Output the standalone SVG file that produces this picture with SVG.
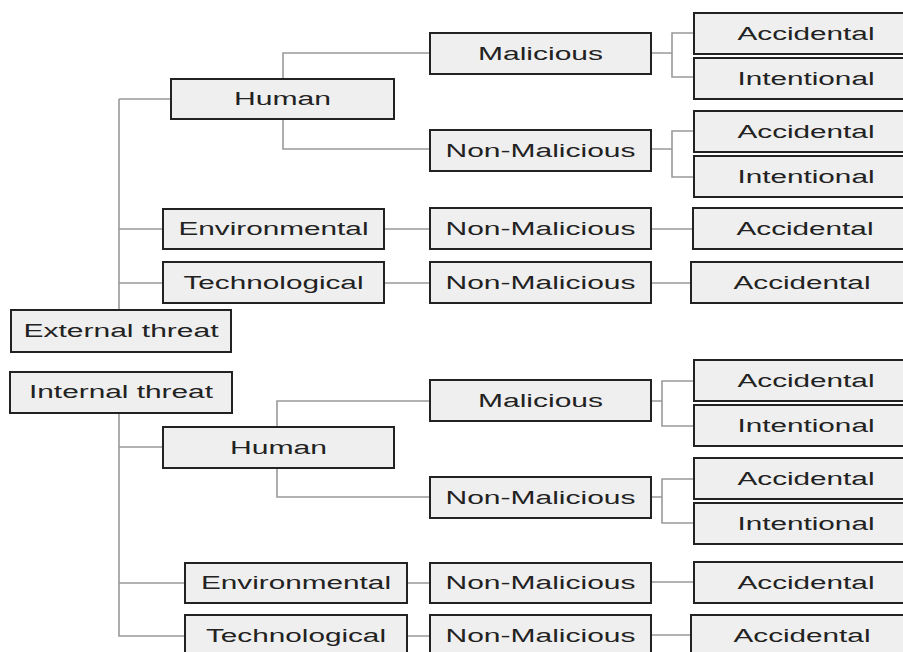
<svg xmlns="http://www.w3.org/2000/svg" width="903" height="652" viewBox="0 0 903 652">
<style>
.b{fill:#efefef;stroke:#222;stroke-width:2}
.t{font-family:"Liberation Sans",Arial,sans-serif;font-size:18px;fill:#222;text-anchor:middle}
.c{fill:none;stroke:#999;stroke-width:1.6}
</style>
<rect width="903" height="652" fill="#fff"/>
<g id="connectors">
<path class="c" d="M119,99V310M119,99H171M119,229H163M119,283H163"/>
<path class="c" d="M283,79V53H430M283,119V149H430"/>
<path class="c" d="M651,53H672M694,33H672V77H694M651,149H672M694,131H672V177H694"/>
<path class="c" d="M384,229H430M651,229H693M384,283H430M651,283H691"/>
<path class="c" d="M119,413V636H185M119,447H163M119,583H185"/>
<path class="c" d="M277,427V401H430M277,468V497H430"/>
<path class="c" d="M651,401H662M694,381H662V426H694M651,497H662M694,479H662V523H694"/>
<path class="c" d="M407,583H430M651,582H694M407,636H430M651,635H691"/>
</g>
<g id="ext-human"><rect class="b" x="171" y="79" width="223" height="40"/><text class="t" x="282.5" y="105" textLength="97" lengthAdjust="spacingAndGlyphs">Human</text></g>
<g id="ext-env"><rect class="b" x="163" y="209" width="221" height="40"/><text class="t" x="273.5" y="235" textLength="190" lengthAdjust="spacingAndGlyphs">Environmental</text></g>
<g id="ext-tech"><rect class="b" x="163" y="262" width="221" height="41"/><text class="t" x="273.5" y="289" textLength="180" lengthAdjust="spacingAndGlyphs">Technological</text></g>
<g id="external"><rect class="b" x="11" y="310" width="220" height="42"/><text class="t" x="121" y="337" textLength="195" lengthAdjust="spacingAndGlyphs">External threat</text></g>
<g id="ext-mal"><rect class="b" x="430" y="33" width="221" height="41"/><text class="t" x="540.5" y="60" textLength="125" lengthAdjust="spacingAndGlyphs">Malicious</text></g>
<g id="ext-nonmal-h"><rect class="b" x="430" y="130" width="221" height="41"/><text class="t" x="540.5" y="157" textLength="190" lengthAdjust="spacingAndGlyphs">Non-Malicious</text></g>
<g id="ext-nonmal-e"><rect class="b" x="430" y="208" width="221" height="41"/><text class="t" x="540.5" y="235" textLength="190" lengthAdjust="spacingAndGlyphs">Non-Malicious</text></g>
<g id="ext-nonmal-t"><rect class="b" x="430" y="262" width="221" height="41"/><text class="t" x="540.5" y="289" textLength="190" lengthAdjust="spacingAndGlyphs">Non-Malicious</text></g>
<g id="ext-acc1"><rect class="b" x="694" y="13" width="224" height="41"/><text class="t" x="806" y="40" textLength="137" lengthAdjust="spacingAndGlyphs">Accidental</text></g>
<g id="ext-int1"><rect class="b" x="694" y="58" width="224" height="41"/><text class="t" x="806" y="85" textLength="137" lengthAdjust="spacingAndGlyphs">Intentional</text></g>
<g id="ext-acc2"><rect class="b" x="694" y="111" width="224" height="41"/><text class="t" x="806" y="138" textLength="137" lengthAdjust="spacingAndGlyphs">Accidental</text></g>
<g id="ext-int2"><rect class="b" x="694" y="156" width="224" height="41"/><text class="t" x="806" y="183" textLength="137" lengthAdjust="spacingAndGlyphs">Intentional</text></g>
<g id="ext-acc3"><rect class="b" x="693" y="208" width="224" height="41"/><text class="t" x="805" y="235" textLength="137" lengthAdjust="spacingAndGlyphs">Accidental</text></g>
<g id="ext-acc4"><rect class="b" x="691" y="262" width="224" height="41"/><text class="t" x="802" y="289" textLength="137" lengthAdjust="spacingAndGlyphs">Accidental</text></g>
<g id="internal"><rect class="b" x="10" y="372" width="222" height="41"/><text class="t" x="121" y="398" textLength="184" lengthAdjust="spacingAndGlyphs">Internal threat</text></g>
<g id="int-human"><rect class="b" x="163" y="427" width="231" height="41"/><text class="t" x="278.5" y="454" textLength="97" lengthAdjust="spacingAndGlyphs">Human</text></g>
<g id="int-env"><rect class="b" x="185" y="563" width="222" height="40"/><text class="t" x="296" y="589" textLength="190" lengthAdjust="spacingAndGlyphs">Environmental</text></g>
<g id="int-tech"><rect class="b" x="185" y="615" width="222" height="41"/><text class="t" x="296" y="642" textLength="180" lengthAdjust="spacingAndGlyphs">Technological</text></g>
<g id="int-mal"><rect class="b" x="430" y="380" width="221" height="41"/><text class="t" x="540.5" y="407" textLength="125" lengthAdjust="spacingAndGlyphs">Malicious</text></g>
<g id="int-nonmal-h"><rect class="b" x="430" y="477" width="221" height="41"/><text class="t" x="540.5" y="504" textLength="190" lengthAdjust="spacingAndGlyphs">Non-Malicious</text></g>
<g id="int-nonmal-e"><rect class="b" x="430" y="563" width="221" height="40"/><text class="t" x="540.5" y="589" textLength="190" lengthAdjust="spacingAndGlyphs">Non-Malicious</text></g>
<g id="int-nonmal-t"><rect class="b" x="430" y="615" width="221" height="41"/><text class="t" x="540.5" y="642" textLength="190" lengthAdjust="spacingAndGlyphs">Non-Malicious</text></g>
<g id="int-acc1"><rect class="b" x="694" y="360" width="224" height="41"/><text class="t" x="806" y="387" textLength="137" lengthAdjust="spacingAndGlyphs">Accidental</text></g>
<g id="int-int1"><rect class="b" x="694" y="405" width="224" height="41"/><text class="t" x="806" y="432" textLength="137" lengthAdjust="spacingAndGlyphs">Intentional</text></g>
<g id="int-acc2"><rect class="b" x="694" y="458" width="224" height="41"/><text class="t" x="806" y="485" textLength="137" lengthAdjust="spacingAndGlyphs">Accidental</text></g>
<g id="int-int2"><rect class="b" x="694" y="503" width="224" height="41"/><text class="t" x="806" y="530" textLength="137" lengthAdjust="spacingAndGlyphs">Intentional</text></g>
<g id="int-acc3"><rect class="b" x="694" y="562" width="224" height="41"/><text class="t" x="806" y="589" textLength="137" lengthAdjust="spacingAndGlyphs">Accidental</text></g>
<g id="int-acc4"><rect class="b" x="691" y="615" width="224" height="41"/><text class="t" x="802" y="642" textLength="137" lengthAdjust="spacingAndGlyphs">Accidental</text></g>
</svg>
